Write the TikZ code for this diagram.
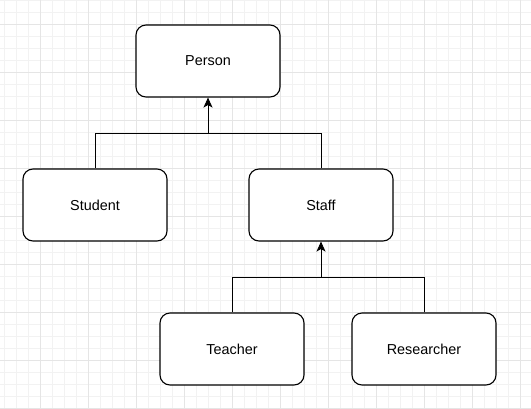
\documentclass[tikz,border=0pt]{standalone}
\usepackage{fontspec}
\setmainfont{Liberation Sans}
\usetikzlibrary{arrows.meta}
\tikzset{
  classbox/.style={draw=black, line width=1.1pt, rounded corners=10pt, fill=white,
    minimum width=144pt, minimum height=72pt, inner sep=0pt,
    font=\fontsize{14.4}{17}\selectfont},
  link/.style={line width=0.9pt},
  inherit/.style={link, -{Stealth[length=10pt,width=9pt,inset=2.5pt]}},
  minorline/.style={draw=black!5, line width=0.8pt},
  majorline/.style={draw=black!10, line width=0.8pt}
}
\begin{document}
\begin{tikzpicture}[x=1pt,y=-1pt]
  \fill[white] (0,0) rectangle (531,408);
  \useasboundingbox (0,0) rectangle (531,408);
  % grid
  \foreach \x in {4,16,...,531} \draw[minorline] (\x,0) -- (\x,408);
  \foreach \y in {0,12,...,408} \draw[minorline] (0,\y) -- (531,\y);
  \foreach \x in {40,88,...,531} \draw[majorline] (\x,0) -- (\x,408);
  \foreach \y in {24,72,...,408} \draw[majorline] (0,\y) -- (531,\y);
  % classes
  \node[classbox] (person) at (208,61) {Person};
  \node[classbox] (student) at (95,205) {Student};
  \node[classbox] (staff) at (321,205) {Staff};
  \node[classbox] (teacher) at (232,349) {Teacher};
  \node[classbox] (researcher) at (424,349) {Researcher};
  \coordinate (j1) at (208,133);
  \coordinate (j2) at (321,277);
  % inheritance
  \draw[inherit] (student.north) |- (j1) -- (person.south);
  \draw[link] (staff.north) |- (j1);
  \draw[inherit] (teacher.north) |- (j2) -- (staff.south);
  \draw[link] (researcher.north) |- (j2);
\end{tikzpicture}
\end{document}
